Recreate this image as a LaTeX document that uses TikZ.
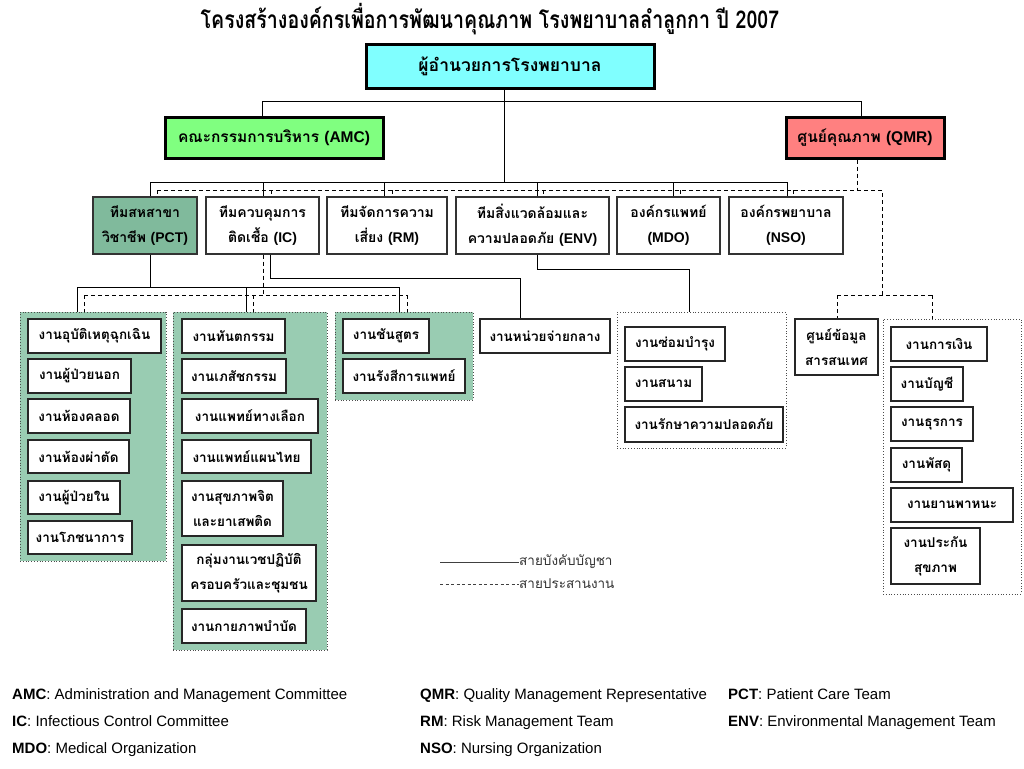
\documentclass[tikz,border=0pt]{standalone}
\usepackage{fontspec}
\setmainfont{Liberation Sans}
\newfontfamily\thai[Script=Thai]{Loma}
\newfontfamily\thaititle[Script=Thai,FakeStretch=0.8]{Loma}
\newfontfamily\latf{Liberation Sans}
\usetikzlibrary{calc}
\definecolor{cyanbox}{RGB}{128,255,255}
\definecolor{greenbox}{RGB}{128,255,128}
\definecolor{redbox}{RGB}{255,128,128}
\definecolor{pctfill}{RGB}{128,186,156}
\definecolor{grpfill}{RGB}{153,204,178}
\newcommand\bx[7]{\node[#1,minimum width={(#5)-(#3)},minimum height={(#6)-(#4)}] (#2) at ({((#3)+(#5))/2},{((#4)+(#6))/2}) {#7};}
\tikzset{
  topbox/.style={draw=black,line width=3pt,inner sep=2pt,font=\thai\bfseries\fontsize{15.5}{18}\selectfont},
  unitbox/.style={draw=black!80,line width=1.1pt,fill=white,inner sep=2pt,align=center,font=\thai\bfseries\fontsize{14}{25}\selectfont},
  workbox/.style={draw=black!85,line width=1.4pt,fill=white,inner sep=2pt,align=center,font=\thai\bfseries\fontsize{13.5}{25}\selectfont},
  grpbox/.style={draw=black!70,dotted,line width=0.8pt,inner sep=0pt},
  ln/.style={draw=black,line width=0.9pt},
  dsh/.style={draw=black,line width=0.9pt,dash pattern=on 4pt off 3pt},
  legtext/.style={anchor=west,inner sep=0pt,text=black!80,font=\thai\fontsize{13.5}{15}\selectfont},
  foot/.style={anchor=base west,inner sep=0pt,font=\fontsize{15}{17}\selectfont}
}
\begin{document}
\begin{tikzpicture}[x=1pt,y=-1pt]
\useasboundingbox (0,0) rectangle (1024,768);
% title
\node[inner sep=0pt,font=\thaititle\bfseries\fontsize{24.5}{28}\selectfont] (title) at (490,19) {โครงสร้างองค์กรเพื่อการพัฒนาคุณภาพ โรงพยาบาลลำลูกกา ปี 2007};
% top level
\bx{topbox,fill=cyanbox,font=\thai\bfseries\fontsize{17.5}{20}\selectfont}{dir}{366}{45}{654}{88}{ผู้อำนวยการโรงพยาบาล}
\bx{topbox,fill=greenbox}{amc}{165}{117}{383}{158}{คณะกรรมการบริหาร {\latf (AMC)}}
\bx{topbox,fill=redbox}{qmr}{786}{117}{944}{158}{ศูนย์คุณภาพ {\latf (QMR)}}
% groups (background)
\bx{grpbox,fill=grpfill}{g1}{20}{312}{166}{561}{}
\bx{grpbox,fill=grpfill}{g2}{173}{312}{327}{650}{}
\bx{grpbox,fill=grpfill}{g3}{335}{312}{473}{400}{}
\bx{grpbox,fill=white}{genv}{617}{312}{786}{448}{}
\bx{grpbox,fill=white}{gfin}{883}{319}{1021}{594}{}
% second row
\bx{unitbox,fill=pctfill}{pct}{93}{197}{197}{254}{ทีมสหสาขา\\วิชาชีพ {\latf (PCT)}}
\bx{unitbox}{ic}{206}{197}{319}{254}{ทีมควบคุมการ\\ติดเชื้อ {\latf (IC)}}
\bx{unitbox}{rm}{327}{197}{447}{254}{ทีมจัดการความ\\เสี่ยง {\latf (RM)}}
\bx{unitbox}{env}{456}{197}{609}{254}{ทีมสิ่งแวดล้อมและ\\ความปลอดภัย {\latf (ENV)}}
\bx{unitbox}{mdo}{617}{197}{720}{254}{องค์กรแพทย์\\{\latf (MDO)}}
\bx{unitbox}{nso}{729}{197}{843}{254}{องค์กรพยาบาล\\{\latf (NSO)}}
% group 1
\bx{workbox}{w11}{28}{319}{161}{353}{งานอุบัติเหตุฉุกเฉิน}
\bx{workbox}{w12}{28}{359}{131}{393}{งานผู้ป่วยนอก}
\bx{workbox}{w13}{28}{399}{130}{433}{งานห้องคลอด}
\bx{workbox}{w14}{28}{440}{129}{473}{งานห้องผ่าตัด}
\bx{workbox}{w15}{28}{481}{120}{514}{งานผู้ป่วยใน}
\bx{workbox}{w16}{28}{521}{132}{554}{งานโภชนาการ}
% group 2
\bx{workbox}{w21}{182}{319}{285}{353}{งานทันตกรรม}
\bx{workbox}{w22}{182}{359}{286}{393}{งานเภสัชกรรม}
\bx{workbox}{w23}{182}{399}{318}{433}{งานแพทย์ทางเลือก}
\bx{workbox}{w24}{182}{440}{311}{473}{งานแพทย์แผนไทย}
\bx{workbox}{w25}{182}{481}{283}{536}{งานสุขภาพจิต\\และยาเสพติด}
\bx{workbox}{w26}{182}{545}{316}{601}{กลุ่มงานเวชปฏิบัติ\\ครอบครัวและชุมชน}
\bx{workbox}{w27}{182}{609}{306}{643}{งานกายภาพบำบัด}
% group 3
\bx{workbox}{w31}{343}{319}{429}{353}{งานชันสูตร}
\bx{workbox}{w32}{343}{359}{465}{393}{งานรังสีการแพทย์}
% central supply
\bx{workbox}{cs}{480}{319}{610}{353}{งานหน่วยจ่ายกลาง}
% env group
\bx{workbox}{e1}{625}{327}{725}{361}{งานซ่อมบำรุง}
\bx{workbox}{e2}{625}{367}{702}{401}{งานสนาม}
\bx{workbox}{e3}{625}{407}{783}{442}{งานรักษาความปลอดภัย}
% info
\bx{workbox}{info}{795}{319}{878}{375}{ศูนย์ข้อมูล\\สารสนเทศ}
% finance group
\bx{workbox}{f1}{891}{327}{987}{361}{งานการเงิน}
\bx{workbox}{f2}{891}{367}{963}{401}{งานบัญชี}
\bx{workbox}{f3}{891}{407}{973}{441}{งานธุรการ}
\bx{workbox}{f4}{891}{448}{962}{482}{งานพัสดุ}
\bx{workbox}{f5}{891}{488}{1013}{522}{งานยานพาหนะ}
\bx{workbox}{f6}{891}{528}{980}{584}{งานประกัน\\สุขภาพ}
% ---- connectors: solid
\coordinate (t0) at (504,182);
\coordinate (a1) at (262,101);
\coordinate (a2) at (861,101);
\draw[ln] (dir.south -| t0) -- (t0);
\draw[ln] (amc.north -| a1) -- (a1) -- (a2) -- (qmr.north -| a2);
\coordinate (r0) at (150,182);
\coordinate (r5) at (787,182);
\draw[ln] (r0) -- (r5);
\foreach \n/\x in {pct/150,ic/263,rm/384,env/537,mdo/673,nso/787}{
  \coordinate (tmp) at (\x,182);
  \draw[ln] (tmp) -- (\n.north -| tmp);
}
% dashed row
\coordinate (d0) at (157,190);
\coordinate (d6) at (882,190);
\coordinate (q1) at (857,190);
\coordinate (q2) at (882,295);
\coordinate (q3) at (837,295);
\coordinate (q4) at (932,295);
\draw[dsh] (qmr.south -| q1) -- (q1);
\draw[dsh] (d0) -- (d6) -- (q2);
\draw[dsh] (q3) -- (q4);
\draw[dsh] (q3) -- (info.north -| q3);
\draw[dsh] (q4) -- (gfin.north -| q4);
\foreach \n/\x in {pct/157,ic/271,rm/392,env/543,mdo/680,nso/793}{
  \coordinate (tmp) at (\x,190);
  \draw[dsh] (tmp) -- (\n.north -| tmp);
}
% PCT to groups
\coordinate (p1) at (150,287);
\coordinate (p0) at (77,287);
\coordinate (p2) at (246,287);
\coordinate (p3) at (399,287);
\draw[ln] (pct.south -| p1) -- (p1);
\draw[ln] (p0) -- (p3);
\draw[ln] (p0) -- (g1.north -| p0);
\draw[ln] (p2) -- (g2.north -| p2);
\draw[ln] (p3) -- (g3.north -| p3);
% IC dashed to groups
\coordinate (c1) at (263,295);
\coordinate (c0) at (84,295);
\coordinate (c2) at (253,295);
\coordinate (c3) at (407,295);
\draw[dsh] (ic.south -| c1) -- (c1);
\draw[dsh] (c0) -- (c3);
\draw[dsh] (c0) -- (g1.north -| c0);
\draw[dsh] (c2) -- (g2.north -| c2);
\draw[dsh] (c3) -- (g3.north -| c3);
% IC solid to central supply
\coordinate (s1) at (270,278);
\coordinate (s2) at (520,278);
\draw[ln] (ic.south -| s1) -- (s1) -- (s2) -- (cs.north -| s2);
% ENV solid to env group
\coordinate (v1) at (537,269);
\coordinate (v2) at (689,269);
\draw[ln] (env.south -| v1) -- (v1) -- (v2) -- (genv.north -| v2);
% legend
\node[legtext] (leg1) at (519,562) {สายบังคับบัญชา};
\node[legtext] (leg2) at (519,584) {สายประสานงาน};
\coordinate (ls1) at (440,562);
\coordinate (ls2) at (440,584);
\draw[draw=black!75,line width=0.9pt] (ls1) -- (leg1.west);
\draw[draw=black!75,line width=0.8pt,dash pattern=on 3pt off 2.5pt] (ls2) -- (leg2.west);
% footer
\node[foot] (n1) at (12,699) {\textbf{AMC}: Administration and Management Committee};
\node[foot] (n2) at (420,699) {\textbf{QMR}: Quality Management Representative};
\node[foot] (n3) at (728,699) {\textbf{PCT}: Patient Care Team};
\node[foot] (n4) at (12,726) {\textbf{IC}: Infectious Control Committee};
\node[foot] (n5) at (420,726) {\textbf{RM}: Risk Management Team};
\node[foot] (n6) at (728,726) {\textbf{ENV}: Environmental Management Team};
\node[foot] (n7) at (12,753) {\textbf{MDO}: Medical Organization};
\node[foot] (n8) at (420,753) {\textbf{NSO}: Nursing Organization};
\end{tikzpicture}
\end{document}
